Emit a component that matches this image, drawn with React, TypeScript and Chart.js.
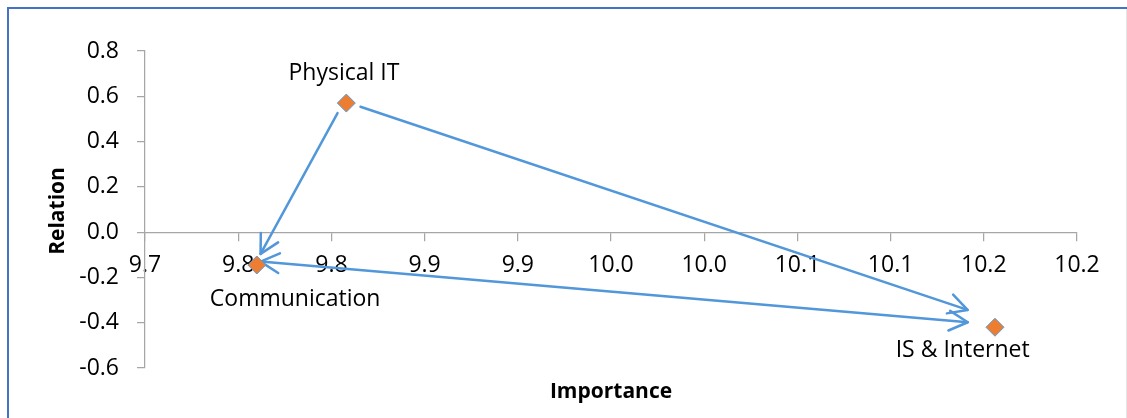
import React, { useEffect, useRef } from 'react';
import { Chart, registerables } from 'chart.js';

Chart.register(...registerables);

// IT capability groups: importance (x) against relation (y)
const categories = ['Physical IT', 'Communication', 'IS & Internet'];
const importance = [9.808, 9.76, 10.156];
const relation = [0.57, -0.145, -0.42];

const xTickValues = [9.7, 9.75, 9.8, 9.85, 9.9, 9.95, 10.0, 10.05, 10.1, 10.15, 10.2];
const xTickLabels = ['9.7', '9.8', '9.8', '9.9', '9.9', '10.0', '10.0', '10.1', '10.1', '10.2', '10.2'];
const yTickValues = [-0.6, -0.4, -0.2, 0, 0.2, 0.4, 0.6, 0.8];
const yTickLabels = ['-0.6', '-0.4', '-0.2', '0.0', '0.2', '0.4', '0.6', '0.8'];

// Connector arrows (data units): tail, tip, and whether the tail also has a head
const arrowTails = [[9.8033, 0.526], [9.8156, 0.554], [10.1414, -0.398]];
const arrowTips = [[9.762, -0.096], [10.1413, -0.3435], [9.762, -0.13]];
const arrowDoubleHeaded = [false, false, true];

const AXIS_COLOR = '#A6A6A6';
const LINE_COLOR = '#5197DA';
const MARKER_BORDER = '#5B9BD5';
const MARKER_FILL = '#ED7D31';
const FONT = "'Open Sans', 'DejaVu Sans', sans-serif";

// label placement around each marker: [dx, baseline dy] in pixels
const LABEL_OFFSETS = [[-2.4, -22.6], [38.3, 41], [-32.3, 30]];

function drawHead(ctx: CanvasRenderingContext2D, tipX: number, tipY: number, fromX: number, fromY: number) {
  const ang = Math.atan2(tipY - fromY, tipX - fromX);
  const len = 21;
  const spread = (28 * Math.PI) / 180;
  ctx.beginPath();
  ctx.moveTo(tipX - len * Math.cos(ang - spread), tipY - len * Math.sin(ang - spread));
  ctx.lineTo(tipX, tipY);
  ctx.lineTo(tipX - len * Math.cos(ang + spread), tipY - len * Math.sin(ang + spread));
  ctx.stroke();
}

const annotations = {
  id: 'annotations',
  beforeDatasetsDraw(chart: any) {
    const { ctx, scales } = chart;
    const sx = scales.x;
    const sy = scales.y;
    ctx.save();
    ctx.strokeStyle = LINE_COLOR;
    ctx.lineWidth = 2.5;
    ctx.lineCap = 'round';
    ctx.lineJoin = 'round';
    arrowTails.forEach((tail, i) => {
      const x1 = sx.getPixelForValue(tail[0]);
      const y1 = sy.getPixelForValue(tail[1]);
      const x2 = sx.getPixelForValue(arrowTips[i][0]);
      const y2 = sy.getPixelForValue(arrowTips[i][1]);
      ctx.beginPath();
      ctx.moveTo(x1, y1);
      ctx.lineTo(x2, y2);
      ctx.stroke();
      drawHead(ctx, x2, y2, x1, y1);
      if (arrowDoubleHeaded[i]) drawHead(ctx, x1, y1, x2, y2);
    });
    ctx.restore();
  },
  afterDatasetsDraw(chart: any) {
    const { ctx, scales, chartArea } = chart;
    const sx = scales.x;
    const sy = scales.y;
    ctx.save();
    ctx.fillStyle = '#000';
    ctx.font = `23px ${FONT}`;
    ctx.textAlign = 'center';
    ctx.textBaseline = 'alphabetic';
    categories.forEach((name, i) => {
      const px = sx.getPixelForValue(importance[i]);
      const py = sy.getPixelForValue(relation[i]);
      ctx.fillText(name, px + LABEL_OFFSETS[i][0], py + LABEL_OFFSETS[i][1]);
    });

    // axis titles
    ctx.font = `bold 21px ${FONT}`;
    ctx.fillText('Importance', (chartArea.left + chartArea.right) / 2, 398);
    ctx.translate(64, 211);
    ctx.rotate(-Math.PI / 2);
    ctx.fillText('Relation', 0, 0);
    ctx.restore();
  },
};

export default function App() {
  const canvasRef = useRef<HTMLCanvasElement | null>(null);

  useEffect(() => {
    const canvas = canvasRef.current;
    if (!canvas) return;
    const tickFont = { family: FONT, size: 23 };
    const chart = new Chart(canvas, {
      type: 'scatter',
      data: {
        datasets: [
          {
            label: 'Relation',
            data: importance.map((v, i) => ({ x: v, y: relation[i] })),
            pointStyle: 'rectRot',
            pointRadius: 9,
            pointHoverRadius: 9,
            backgroundColor: MARKER_FILL,
            borderColor: MARKER_BORDER,
            borderWidth: 1,
            showLine: false,
          },
        ],
      },
      options: {
        animation: false,
        responsive: false,
        devicePixelRatio: 1,
        layout: { padding: { left: 0, top: 51, right: 50, bottom: 50 } },
        plugins: {
          legend: { display: false },
          tooltip: { enabled: false },
        },
        scales: {
          x: {
            type: 'linear',
            position: { y: 0 },
            min: 9.7,
            max: 10.2,
            afterBuildTicks: (s: any) => {
              s.ticks = xTickValues.map((v) => ({ value: v }));
            },
            afterFit: (s: any) => {
              s.height = 0;
            },
            grid: { drawOnChartArea: false, drawTicks: true, tickLength: 8, color: AXIS_COLOR, lineWidth: 1.25 },
            border: { display: true, color: AXIS_COLOR, width: 1.25 },
            ticks: {
              autoSkip: false,
              maxRotation: 0,
              padding: 12,
              color: '#000',
              font: tickFont,
              callback: (_v: any, i: number) => xTickLabels[i],
            },
          },
          y: {
            type: 'linear',
            position: 'left',
            min: -0.6,
            max: 0.8,
            afterBuildTicks: (s: any) => {
              s.ticks = yTickValues.map((v) => ({ value: v }));
            },
            afterFit: (s: any) => {
              s.width = 145;
            },
            grid: { drawOnChartArea: false, drawTicks: true, tickLength: 8, color: AXIS_COLOR, lineWidth: 1.25 },
            border: { display: true, color: AXIS_COLOR, width: 1.25 },
            ticks: {
              padding: 18,
              color: '#000',
              font: tickFont,
              callback: (_v: any, i: number) => yTickLabels[i],
            },
          },
        },
      } as any,
      plugins: [annotations],
    });
    return () => chart.destroy();
  }, []);

  return (
    <div style={{ position: 'fixed', left: 0, top: 0, width: 1127, height: 418, background: '#fff', overflow: 'hidden' }}>
      <canvas ref={canvasRef} width={1127} height={418} style={{ position: 'absolute', left: 0, top: 0 }} />
      <div
        style={{
          position: 'absolute',
          left: 7,
          top: 7,
          right: 0,
          bottom: 0,
          borderTop: '2px solid #4472C4',
          borderLeft: '2px solid #4472C4',
          pointerEvents: 'none',
        }}
      />
      <div style={{ position: 'absolute', left: 1126, top: 9, width: 1, bottom: 0, background: '#E4E4E4' }} />
    </div>
  );
}
